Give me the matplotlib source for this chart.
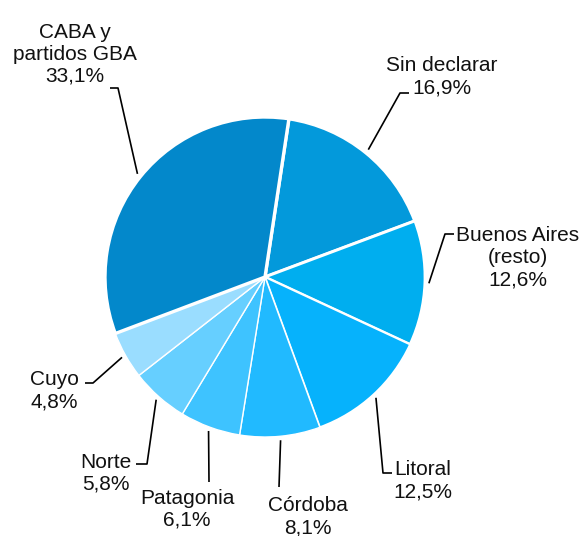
import numpy as np
import matplotlib
matplotlib.use("Agg")
import matplotlib.pyplot as plt

# ---- data ----
regions = ["Sin declarar", "Buenos Aires\n(resto)", "Litoral", "Córdoba",
           "Patagonia", "Norte", "Cuyo", "CABA y\npartidos GBA"]
shares = [16.9, 12.6, 12.5, 8.1, 6.1, 5.8, 4.8, 33.1]
colors = ["#0399DB", "#00AEEF", "#06B2FC", "#21BAFF",
          "#3EC3FF", "#66CFFF", "#9ADDFF", "#0388CB"]

# ---- layout (pixel coordinates, y downward) ----
W, H = 584, 536
center_px = (265, 277)
radius_px = 160
start_angle = 81.4
edge_widths = [2.4, 2.0, 1.5, 1.0, 1.0, 1.0, 1.0, 2.4]
# last-line baseline position of each label
label_pos = [(442, 93), (518, 285), (423, 497), (308, 533),
             (187, 526), (106, 490), (54, 407), (75, 82)]
# leader: elbow point and end point
leader_pts = [((400, 93), (409, 93)),
              ((445, 234), (454, 234)),
              ((383, 473), (392, 473)),
              ((279, 487), (279, 487)),
              ((209, 482), (209, 482)),
              ((147, 464), (136, 464)),
              ((93, 383), (85, 383)),
              ((118, 88), (110, 88))]

plt.rcParams['font.family'] = ['Liberation Sans', 'DejaVu Sans']

fig = plt.figure(figsize=(W / 100, H / 100), dpi=100)
ax = fig.add_axes([0, 0, 1, 1])

def Y(py):
    return H - py

cx, cy = center_px[0], Y(center_px[1])
wedges, _ = ax.pie(shares, colors=colors, startangle=start_angle,
                   counterclock=False, center=(cx, cy), radius=radius_px,
                   wedgeprops=dict(edgecolor='white'), frame=True)
ax.set_xlim(0, W)
ax.set_ylim(0, H)
ax.set_aspect('equal')
ax.axis('off')
for w, lw in zip(wedges, edge_widths):
    w.set_linewidth(lw)

for w, name, val, (lx, ly), (elb, end) in zip(wedges, regions, shares,
                                               label_pos, leader_pts):
    mid = np.deg2rad((w.theta1 + w.theta2) / 2)
    ax_r = radius_px + 4
    x0 = cx + ax_r * np.cos(mid)
    y0 = cy + ax_r * np.sin(mid)
    ax.plot([x0, elb[0], end[0]], [y0, Y(elb[1]), Y(end[1])],
            color='black', lw=1.2, solid_capstyle='butt')
    txt = f"{name}\n{val:.1f}%".replace('.', ',')
    ax.text(lx, Y(ly), txt, ha='center', va='baseline', multialignment='center',
            fontsize=15, color='#111111', linespacing=1.2)

fig.savefig("out.png", dpi=100)
